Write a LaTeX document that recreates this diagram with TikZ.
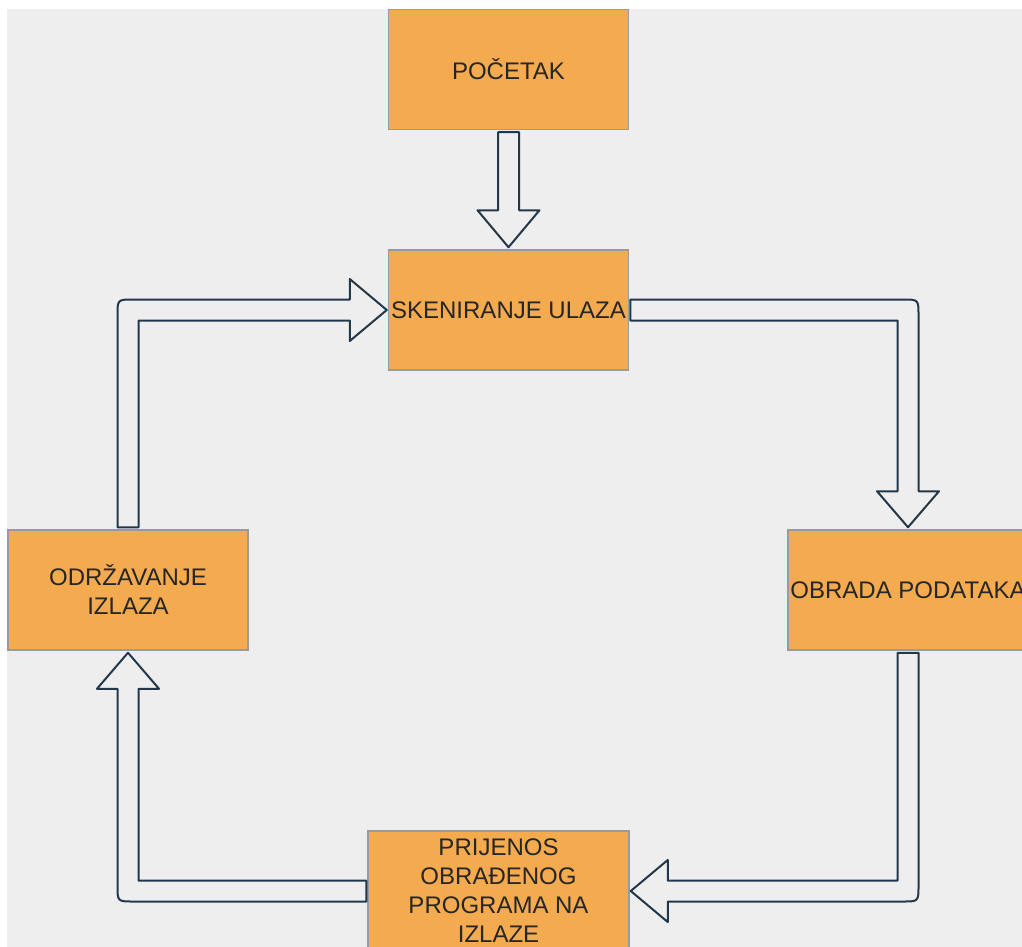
\documentclass[tikz,border=0pt]{standalone}
\usepackage{fontspec}
\setmainfont{Liberation Sans}
\usetikzlibrary{calc}
\definecolor{bgc}{HTML}{EEEEEE}
\definecolor{boxfill}{HTML}{F4AA4E}
\definecolor{boxline}{HTML}{9A9A9A}
\definecolor{arrline}{HTML}{22384A}
\definecolor{txt}{HTML}{262626}
\tikzset{
  stepbox/.style={draw=boxline, line width=1.5pt, fill=boxfill, minimum width=240pt,
    minimum height=120pt, inner sep=0pt, align=center, text=txt,
    font=\fontsize{24}{29}\selectfont},
  blockarrow/.style={draw=arrline, line width=2pt, fill=bgc, line join=round}
}
\begin{document}
\begin{tikzpicture}[x=1pt,y=-1pt]
\useasboundingbox (0,0) rectangle (1022,947);
\fill[white] (0,0) rectangle (1022,947);
\clip (0,0) rectangle (1022,947);
\fill[bgc] (7,9) rectangle (1022,947);

\node[stepbox] (start) at (508.5,69.5) {POČETAK};
\node[stepbox] (scan) at (508.5,310) {SKENIRANJE ULAZA};
\node[stepbox] (proc) at (908,590) {OBRADA PODATAKA};
\node[stepbox] (out) at (128,590) {ODRŽAVANJE\\IZLAZA};
\node[stepbox, minimum width=261pt] (trans) at (498.5,891) {PRIJENOS\\OBRAĐENOG\\PROGRAMA NA\\IZLAZE};

\coordinate (c2) at (proc.north |- scan.east);
\coordinate (c3) at (proc.south |- trans.east);
\coordinate (c4) at (out.south |- trans.west);
\coordinate (c5) at (out.north |- scan.west);

% start -> scan
\draw[blockarrow] ($(start.south)+(-10.5,2)$) -- ($(scan.north)+(-10.5,-39)$)
  -- ($(scan.north)+(-31,-39)$) -- ($(scan.north)+(0,-2)$) -- ($(scan.north)+(31,-39)$)
  -- ($(scan.north)+(10.5,-39)$) -- ($(start.south)+(10.5,2)$) -- cycle;

% scan -> proc
\draw[blockarrow] ($(scan.east)+(1,-10.5)$) -- ($(c2)+(-5.5,-10.5)$)
  .. controls ($(c2)+(10.5,-10.5)$) .. ($(c2)+(10.5,5.5)$)
  -- ($(proc.north)+(10.5,-38)$) -- ($(proc.north)+(31,-38)$) -- ($(proc.north)+(0,-2)$)
  -- ($(proc.north)+(-31,-38)$) -- ($(proc.north)+(-10.5,-38)$)
  -- ($(c2)+(-10.5,10.5)$) -- ($(scan.east)+(1,10.5)$) -- cycle;

% proc -> trans
\draw[blockarrow] ($(proc.south)+(-10.5,2)$) -- ($(c3)+(-10.5,-10.5)$)
  -- ($(trans.east)+(38,-10.5)$) -- ($(trans.east)+(38,-31)$) -- ($(trans.east)+(1,0)$)
  -- ($(trans.east)+(38,31)$) -- ($(trans.east)+(38,10.5)$)
  -- ($(c3)+(-5.5,10.5)$) .. controls ($(c3)+(10.5,10.5)$) .. ($(c3)+(10.5,-5.5)$)
  -- ($(proc.south)+(10.5,2)$) -- cycle;

% trans -> out
\draw[blockarrow] ($(trans.west)+(-1,-10.5)$) -- ($(c4)+(10.5,-10.5)$)
  -- ($(out.south)+(10.5,38)$) -- ($(out.south)+(31,38)$) -- ($(out.south)+(0,2)$)
  -- ($(out.south)+(-31,38)$) -- ($(out.south)+(-10.5,38)$)
  -- ($(c4)+(-10.5,-5.5)$) .. controls ($(c4)+(-10.5,10.5)$) .. ($(c4)+(5.5,10.5)$)
  -- ($(trans.west)+(-1,10.5)$) -- cycle;

% out -> scan
\draw[blockarrow] ($(out.north)+(10.5,-2)$) -- ($(c5)+(10.5,10.5)$)
  -- ($(scan.west)+(-38,10.5)$) -- ($(scan.west)+(-38,31)$) -- ($(scan.west)+(-1,0)$)
  -- ($(scan.west)+(-38,-31)$) -- ($(scan.west)+(-38,-10.5)$)
  -- ($(c5)+(5.5,-10.5)$) .. controls ($(c5)+(-10.5,-10.5)$) .. ($(c5)+(-10.5,5.5)$)
  -- ($(out.north)+(-10.5,-2)$) -- cycle;
\end{tikzpicture}
\end{document}
